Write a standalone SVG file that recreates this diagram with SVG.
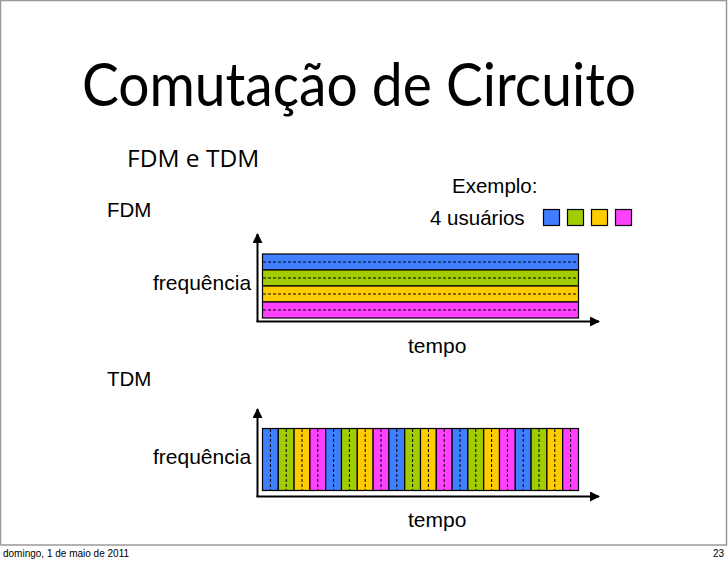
<svg xmlns="http://www.w3.org/2000/svg" width="728" height="561" viewBox="0 0 728 561">
  <style>
    .title { font-family: "Lato", "Open Sans", sans-serif; font-size: 60px; fill: #000; }
    .sub { font-family: "Open Sans", "Liberation Sans", sans-serif; font-size: 24.5px; fill: #000; }
    .lbl { font-family: "Liberation Sans", Arial, sans-serif; font-size: 21px; fill: #000; }
    .ex { font-family: "Liberation Sans", Arial, sans-serif; font-size: 20.5px; fill: #000; }
    .foot { font-family: "Liberation Sans", Arial, sans-serif; font-size: 10px; fill: #000; }
    .axis { stroke: #000; stroke-width: 2; fill: none; }
    .band { stroke: #000; stroke-width: 1.2; }
    .dash { stroke: #000; stroke-width: 1; stroke-dasharray: 3 2; }
    .blue { fill: #3F7FFF; }
    .green { fill: #A0CC00; }
    .yellow { fill: #FFCC00; }
    .magenta { fill: #FF40FF; }
  </style>
  <defs>
    <marker id="head" viewBox="0 0 10 10" refX="9" refY="5" markerWidth="5" markerHeight="5" orient="auto" markerUnits="strokeWidth">
      <path d="M0,0 L10,5 L0,10 z" fill="#000"/>
    </marker>
  </defs>

  <!-- slide frame -->
  <rect x="0" y="0" width="728" height="561" fill="#fff"/>
  <path d="M0.5,545 V0.5 H726.5 V545 H0.5" fill="none" stroke="#999" stroke-width="1.5"/>

  <text class="title" x="82" y="106" textLength="554" lengthAdjust="spacingAndGlyphs">Comutação de Circuito</text>
  <text class="sub" x="127" y="167">FDM e TDM</text>
  <text class="ex" x="107" y="217">FDM</text>
  <text class="ex" x="107" y="386">TDM</text>

  <!-- legend -->
  <g id="legend">
    <text class="ex" x="452" y="193">Exemplo:</text>
    <text class="ex" x="430" y="225">4 usuários</text>
    <rect class="band blue" x="543.5" y="209.5" width="16" height="16"/>
    <rect class="band green" x="567.5" y="209.5" width="16" height="16"/>
    <rect class="band yellow" x="591.5" y="209.5" width="16" height="16"/>
    <rect class="band magenta" x="615.5" y="209.5" width="16" height="16"/>
  </g>

  <!-- frequency division -->
  <g id="fdm">
    <rect class="band blue" x="262.5" y="254" width="316" height="16"/>
    <rect class="band green" x="262.5" y="270" width="316" height="16"/>
    <rect class="band yellow" x="262.5" y="286" width="316" height="16"/>
    <rect class="band magenta" x="262.5" y="302" width="316" height="16"/>
    <line class="dash" x1="263" y1="262" x2="578" y2="262"/>
    <line class="dash" x1="263" y1="278" x2="578" y2="278"/>
    <line class="dash" x1="263" y1="294" x2="578" y2="294"/>
    <line class="dash" x1="263" y1="310" x2="578" y2="310"/>
    <text class="lbl" x="153" y="290">frequência</text>
    <text class="lbl" x="408" y="353">tempo</text>
  </g>

  <!-- time division -->
  <g id="tdm">
    <g id="tdm-slots">
      <rect class="band blue" x="262.5" y="428.5" width="15.8" height="62"/>
      <rect class="band green" x="278.3" y="428.5" width="15.8" height="62"/>
      <rect class="band yellow" x="294.1" y="428.5" width="15.8" height="62"/>
      <rect class="band magenta" x="309.9" y="428.5" width="15.8" height="62"/>
      <rect class="band blue" x="325.7" y="428.5" width="15.8" height="62"/>
      <rect class="band green" x="341.5" y="428.5" width="15.8" height="62"/>
      <rect class="band yellow" x="357.3" y="428.5" width="15.8" height="62"/>
      <rect class="band magenta" x="373.1" y="428.5" width="15.8" height="62"/>
      <rect class="band blue" x="388.9" y="428.5" width="15.8" height="62"/>
      <rect class="band green" x="404.7" y="428.5" width="15.8" height="62"/>
      <rect class="band yellow" x="420.5" y="428.5" width="15.8" height="62"/>
      <rect class="band magenta" x="436.3" y="428.5" width="15.8" height="62"/>
      <rect class="band blue" x="452.1" y="428.5" width="15.8" height="62"/>
      <rect class="band green" x="467.9" y="428.5" width="15.8" height="62"/>
      <rect class="band yellow" x="483.7" y="428.5" width="15.8" height="62"/>
      <rect class="band magenta" x="499.5" y="428.5" width="15.8" height="62"/>
      <rect class="band blue" x="515.3" y="428.5" width="15.8" height="62"/>
      <rect class="band green" x="531.1" y="428.5" width="15.8" height="62"/>
      <rect class="band yellow" x="546.9" y="428.5" width="15.8" height="62"/>
      <rect class="band magenta" x="562.7" y="428.5" width="15.8" height="62"/>
    </g>
    <g id="tdm-dashes">
      <line class="dash" x1="270.4" y1="429" x2="270.4" y2="490"/>
      <line class="dash" x1="286.2" y1="429" x2="286.2" y2="490"/>
      <line class="dash" x1="302.0" y1="429" x2="302.0" y2="490"/>
      <line class="dash" x1="317.8" y1="429" x2="317.8" y2="490"/>
      <line class="dash" x1="333.6" y1="429" x2="333.6" y2="490"/>
      <line class="dash" x1="349.4" y1="429" x2="349.4" y2="490"/>
      <line class="dash" x1="365.2" y1="429" x2="365.2" y2="490"/>
      <line class="dash" x1="381.0" y1="429" x2="381.0" y2="490"/>
      <line class="dash" x1="396.8" y1="429" x2="396.8" y2="490"/>
      <line class="dash" x1="412.6" y1="429" x2="412.6" y2="490"/>
      <line class="dash" x1="428.4" y1="429" x2="428.4" y2="490"/>
      <line class="dash" x1="444.2" y1="429" x2="444.2" y2="490"/>
      <line class="dash" x1="460.0" y1="429" x2="460.0" y2="490"/>
      <line class="dash" x1="475.8" y1="429" x2="475.8" y2="490"/>
      <line class="dash" x1="491.6" y1="429" x2="491.6" y2="490"/>
      <line class="dash" x1="507.4" y1="429" x2="507.4" y2="490"/>
      <line class="dash" x1="523.2" y1="429" x2="523.2" y2="490"/>
      <line class="dash" x1="539.0" y1="429" x2="539.0" y2="490"/>
      <line class="dash" x1="554.8" y1="429" x2="554.8" y2="490"/>
      <line class="dash" x1="570.6" y1="429" x2="570.6" y2="490"/>
    </g>
    <text class="lbl" x="153" y="464">frequência</text>
    <text class="lbl" x="408" y="527">tempo</text>
  </g>

  <!-- axes -->
  <g id="axes">
    <line class="axis" x1="257.5" y1="322" x2="257.5" y2="234" marker-end="url(#head)"/>
    <line class="axis" x1="256.5" y1="321.5" x2="599" y2="321.5" marker-end="url(#head)"/>
    <line class="axis" x1="257.5" y1="497" x2="257.5" y2="409" marker-end="url(#head)"/>
    <line class="axis" x1="256.5" y1="496.5" x2="599" y2="496.5" marker-end="url(#head)"/>
  </g>

  <text class="foot" x="3" y="557">domingo, 1 de maio de 2011</text>
  <text class="foot" x="724" y="557" text-anchor="end">23</text>
</svg>
